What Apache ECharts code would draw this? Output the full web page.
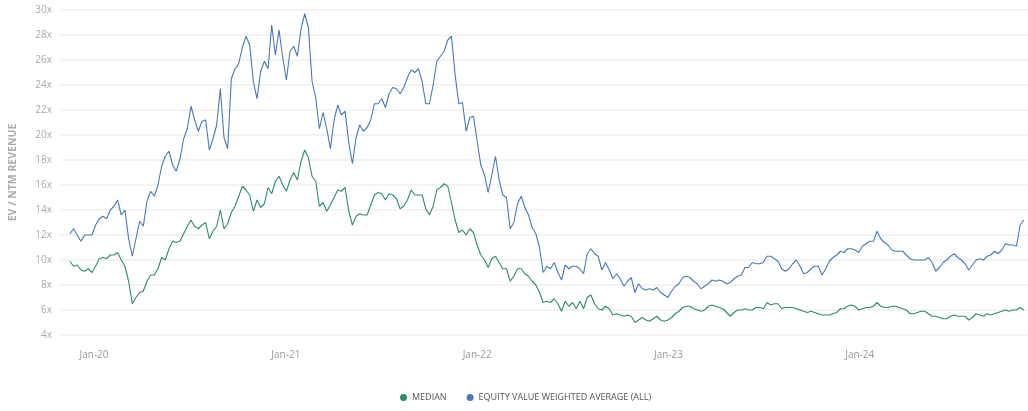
<!DOCTYPE html>
<html>
<head>
<meta charset="utf-8">
<script src="https://cdn.jsdelivr.net/npm/echarts@6/dist/echarts.min.js"></script>
<style>
  html, body { margin: 0; padding: 0; background: #fff; }
  #container { width: 1028px; height: 411px; }
</style>
</head>
<body>
<div id="container"></div>
<script>
// weekly readings, first week starting 2019-11-16
var startDate = '2019-11-16';
var seriesNames = ['MEDIAN', 'EQUITY VALUE WEIGHTED AVERAGE (ALL)'];
var seriesColors = ['#2e8b6b', '#4a78b6'];

var medianData = [
    9.9, 9.5, 9.6, 9.2, 9.1, 9.3, 9.0, 9.5, 10.1, 10.2,
    10.1, 10.4, 10.4, 10.6, 10.0, 9.5, 8.3, 6.5, 7.0, 7.4,
    7.5, 8.3, 8.8, 8.8, 9.3, 10.2, 10.0, 10.9, 11.5, 11.4,
    11.5, 12.1, 12.7, 13.2, 12.7, 12.5, 12.8, 13.0, 11.7, 12.3,
    12.7, 14.0, 12.5, 12.9, 13.8, 14.3, 15.1, 15.9, 15.6, 15.2,
    13.9, 14.8, 14.2, 14.5, 15.8, 15.3, 16.3, 16.7, 16.0, 15.5,
    16.4, 17.0, 16.4, 17.9, 18.8, 18.2, 16.7, 16.3, 14.3, 14.6,
    13.9, 14.4, 15.0, 15.6, 15.5, 15.8, 13.9, 12.8, 13.5, 13.7,
    13.6, 13.6, 14.4, 15.2, 15.4, 15.3, 14.8, 15.3, 15.2, 14.9,
    14.1, 14.3, 14.8, 15.6, 15.2, 15.2, 15.2, 14.1, 13.6, 14.3,
    15.6, 15.8, 16.1, 15.9, 14.6, 13.2, 12.2, 12.4, 12.0, 12.5,
    12.2, 11.2, 10.4, 10.0, 9.4, 10.1, 10.3, 9.8, 9.3, 9.3,
    8.3, 8.7, 9.3, 9.3, 8.9, 8.7, 8.3, 8.0, 7.4, 6.6,
    6.7, 6.6, 6.9, 6.5, 5.9, 6.7, 6.3, 6.6, 6.1, 6.7,
    6.1, 7.0, 7.2, 6.5, 6.1, 6.0, 6.3, 6.1, 5.6, 5.7,
    5.6, 5.5, 5.6, 5.5, 5.0, 5.2, 5.4, 5.2, 5.1, 5.3,
    5.5, 5.2, 5.1, 5.2, 5.4, 5.7, 5.9, 6.2, 6.3, 6.3,
    6.1, 6.0, 5.9, 6.0, 6.3, 6.4, 6.3, 6.2, 6.1, 5.8,
    5.5, 5.8, 6.0, 6.0, 6.1, 6.0, 6.0, 6.2, 6.2, 6.1,
    6.6, 6.4, 6.5, 6.5, 6.1, 6.2, 6.2, 6.2, 6.1, 6.0,
    5.9, 5.8, 5.9, 5.8, 5.7, 5.6, 5.6, 5.6, 5.7, 5.8,
    6.1, 6.1, 6.3, 6.4, 6.3, 6.0, 6.1, 6.2, 6.2, 6.3,
    6.6, 6.3, 6.2, 6.2, 6.3, 6.3, 6.2, 6.1, 6.0, 5.7,
    5.7, 5.8, 5.9, 5.9, 5.7, 5.5, 5.5, 5.4, 5.3, 5.3,
    5.5, 5.6, 5.5, 5.5, 5.5, 5.2, 5.4, 5.7, 5.6, 5.5,
    5.7, 5.6, 5.7, 5.8, 5.9, 6.0, 5.9, 6.0, 6.0, 6.2,
    6.0
];

var weightedData = [
    12.1, 12.5, 12.0, 11.5, 12.0, 12.0, 12.0, 12.8, 13.3, 13.5,
    13.3, 14.0, 14.3, 14.8, 13.6, 14.0, 11.7, 10.3, 11.7, 13.1,
    12.7, 14.7, 15.5, 15.1, 16.0, 17.5, 18.3, 18.7, 17.6, 17.1,
    18.1, 19.7, 20.5, 22.3, 21.2, 20.3, 21.1, 21.2, 18.8, 19.7,
    20.8, 23.7, 19.8, 18.9, 24.5, 25.3, 25.7, 27.0, 27.9, 27.2,
    24.3, 22.9, 25.1, 25.9, 25.3, 28.8, 26.4, 28.4, 26.2, 24.4,
    26.7, 27.1, 26.3, 28.5, 29.7, 28.6, 24.3, 23.0, 20.5, 21.8,
    20.5, 18.9, 21.2, 22.4, 21.6, 21.9, 19.4, 17.7, 19.8, 20.8,
    20.3, 20.6, 21.2, 22.5, 22.5, 22.9, 22.2, 23.3, 23.8, 23.7,
    23.3, 23.8, 24.6, 25.2, 25.0, 25.3, 24.3, 22.5, 22.5, 24.0,
    25.9, 26.3, 26.7, 27.6, 27.9, 24.8, 22.5, 22.6, 20.3, 21.4,
    21.5, 19.5, 17.6, 16.8, 15.4, 16.8, 18.3, 16.4, 15.2, 15.0,
    12.5, 13.0, 14.5, 15.1, 14.2, 13.6, 12.6, 12.1, 11.0, 9.0,
    9.5, 9.3, 9.8, 9.0, 8.4, 9.6, 9.3, 9.5, 9.5, 9.3,
    8.9, 10.5, 10.9, 10.5, 10.3, 9.2, 9.8, 9.2, 8.5, 8.9,
    8.5, 7.9, 8.3, 8.6, 7.4, 8.1, 7.7, 7.6, 7.7, 7.6,
    7.8, 7.4, 7.2, 7.0, 7.5, 7.9, 8.1, 8.6, 8.7, 8.6,
    8.3, 8.1, 7.7, 7.9, 8.1, 8.4, 8.3, 8.4, 8.3, 8.1,
    8.2, 8.5, 8.7, 8.8, 9.4, 9.4, 9.8, 9.7, 9.7, 9.8,
    10.3, 10.3, 10.1, 9.9, 9.3, 9.1, 9.3, 9.7, 10.0, 9.5,
    8.9, 9.0, 9.3, 9.5, 9.5, 8.8, 9.3, 9.9, 10.2, 10.4,
    10.7, 10.6, 10.9, 10.9, 10.8, 10.6, 11.1, 11.3, 11.5, 11.5,
    12.3, 11.7, 11.4, 11.2, 10.8, 10.7, 10.7, 10.7, 10.4, 10.1,
    10.0, 10.0, 10.0, 10.0, 10.2, 9.8, 9.1, 9.4, 9.8, 10.0,
    10.3, 10.5, 10.2, 10.0, 9.7, 9.2, 9.6, 10.0, 10.1, 10.0,
    10.3, 10.4, 10.7, 10.5, 10.8, 11.3, 11.2, 11.2, 11.1, 12.8,
    13.2
];

var yTicks = { min: 4, max: 30, interval: 2 };

// one date per weekly reading
var dates = [];
var t0 = new Date(startDate + 'T00:00:00Z').getTime();
for (var i = 0; i < medianData.length; i++) {
    dates.push(t0 + i * 7 * 86400000);
}

function pairUp(values) {
    var out = [];
    for (var i = 0; i < values.length; i++) {
        out.push([dates[i], values[i]]);
    }
    return out;
}

var dom = document.getElementById('container');
var myChart = echarts.init(dom, null, { renderer: 'canvas' });

var fontFamily = '"Open Sans", "Noto Sans", sans-serif';

var option = {
    animation: false,
    color: seriesColors,
    textStyle: { fontFamily: fontFamily },
    grid: {
        left: 57,
        right: 0,
        top: 10,
        bottom: 76,
        containLabel: false
    },
    legend: {
        data: seriesNames,
        left: 395,
        bottom: 4,
        icon: 'circle',
        itemWidth: 7,
        itemHeight: 7,
        itemGap: 20,
        selectedMode: false,
        textStyle: { fontSize: 9, color: '#555', fontFamily: fontFamily }
    },
    xAxis: {
        type: 'time',
        min: '2019-10-30',
        max: '2024-11-17',
        splitNumber: 5,
        axisLine: { show: false },
        axisTick: { show: false },
        splitLine: { show: false },
        axisLabel: {
            color: '#999',
            fontSize: 10,
            margin: 15,
            formatter: function (value) {
                var d = new Date(value);
                if (d.getUTCMonth() === 0 && d.getUTCDate() === 1) {
                    return 'Jan-' + String(d.getUTCFullYear()).slice(2);
                }
                return '';
            }
        }
    },
    yAxis: {
        type: 'value',
        min: yTicks.min,
        max: yTicks.max,
        interval: yTicks.interval,
        name: 'EV / NTM REVENUE',
        nameLocation: 'middle',
        nameGap: 42,
        nameTextStyle: { color: '#aaa', fontSize: 10.5, fontWeight: 'bold', fontFamily: fontFamily },
        axisLine: { show: false },
        axisTick: { show: false },
        axisLabel: {
            color: '#aaa',
            fontSize: 10,
            margin: 9,
            formatter: '{value}x'
        },
        splitLine: { lineStyle: { color: '#efefef', width: 1.5 } }
    },
    series: [
        {
            name: seriesNames[0],
            type: 'line',
            data: pairUp(medianData),
            showSymbol: false,
            lineStyle: { width: 1.1, color: seriesColors[0] },
            itemStyle: { color: seriesColors[0] }
        },
        {
            name: seriesNames[1],
            type: 'line',
            data: pairUp(weightedData),
            showSymbol: false,
            lineStyle: { width: 1.1, color: seriesColors[1] },
            itemStyle: { color: seriesColors[1] }
        }
    ]
};

myChart.setOption(option);
</script>
</body>
</html>
